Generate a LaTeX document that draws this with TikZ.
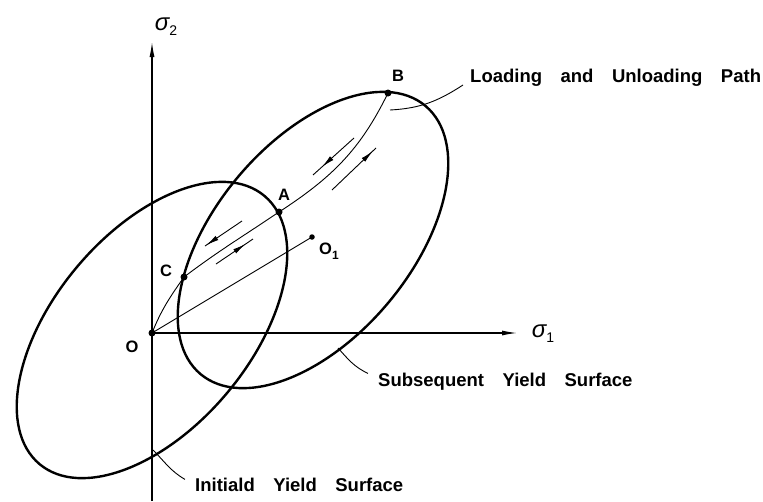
\documentclass[tikz,border=0pt]{standalone}
\usepackage{fontspec}
\setmainfont{Liberation Sans}
\newfontfamily\lab[WordSpace=3.6]{Liberation Sans}
\usetikzlibrary{arrows.meta,decorations.markings}
\begin{document}
\begin{tikzpicture}[x=1pt,y=1pt,
  surf/.style={line width=2.4pt},
  axis/.style={line width=1.1pt,-{Latex[length=15pt,width=5pt]}},
  thinline/.style={line width=0.9pt},
  dot/.style={circle,fill,inner sep=0pt,minimum size=7pt},
  smalldot/.style={circle,fill,inner sep=0pt,minimum size=5.5pt},
  ptlab/.style={font=\bfseries\fontsize{16.5}{16.5}\selectfont,inner sep=0pt},
  siglab/.style={inner sep=0pt},
  txt/.style={font=\lab\bfseries\fontsize{18.5}{18.5}\selectfont, anchor=base west, inner sep=0pt},
  halfarrow/.style={line width=0.9pt, postaction={decorate},
    decoration={markings, mark=at position #1 with {\arrow{Latex[length=13pt,width=5pt]}}}},
]
\useasboundingbox (0,0) rectangle (763,-501);

% geometry points
\coordinate (O) at (152,-333);
\coordinate (Ic) at (152,-330);
\coordinate (O1) at (312,-237);
\coordinate (Sc) at (313,-240);
\coordinate (A) at (279,-212);
\coordinate (B) at (388,-93);
\coordinate (C) at (184,-277);
\coordinate (ybot) at (152,-501);
\coordinate (ytop) at (152,-42);
\coordinate (xend) at (517,-333);

% axes
\draw[axis] (ybot) -- (ytop);
\draw[axis] (O) -- (xend);
\node[siglab] (s2) at (166,-27) {{\fontsize{24}{24}\selectfont\itshape σ}\raisebox{-5pt}{\fontsize{14}{14}\selectfont 2}};
\node[siglab] (s1) at (543,-334) {{\fontsize{24}{24}\selectfont\itshape σ}\raisebox{-5pt}{\fontsize{14}{14}\selectfont 1}};

% yield surfaces
\draw[surf, rotate around={50:(Ic)}] (Ic) ellipse [x radius=175, y radius=98];
\draw[surf, rotate around={50:(Sc)}] (Sc) ellipse [x radius=175, y radius=98];

% loading path and O-O1
\draw[thinline] (O) to[out=68,in=235] (C) to[out=37,in=214] (A) to[out=33,in=244] (B);
\draw[thinline] (O) -- (O1);

% direction marks
\coordinate (m1s) at (242,-221); \coordinate (m1e) at (205,-246);
\coordinate (m2s) at (216,-264); \coordinate (m2e) at (253,-239);
\coordinate (m3s) at (354,-138); \coordinate (m3e) at (313,-175);
\coordinate (m4s) at (332,-190); \coordinate (m4e) at (376,-148);
\draw[halfarrow=0.97] (m1s) -- (m1e);
\draw[halfarrow=0.8] (m2s) -- (m2e);
\draw[halfarrow=0.78] (m3s) -- (m3e);
\draw[halfarrow=0.93] (m4s) -- (m4e);

% dots
\node[dot] (Od) at (O) {};
\node[dot] (Ad) at (A) {};
\node[dot] (Bd) at (B) {};
\node[dot] (Cd) at (C) {};
\node[smalldot] (O1d) at (O1) {};

% point labels
\node[ptlab] (Al) at (284,-195) {A};
\node[ptlab] (Bl) at (398,-76) {B};
\node[ptlab] (Cl) at (166,-271) {C};
\node[ptlab] (Ol) at (132,-347) {O};
\node[ptlab] (O1l) at (329,-251) {O\raisebox{-5pt}{\fontsize{12}{12}\selectfont 1}};

% captions and leaders
\node[txt] (load) at (470,-82) {Loading and Unloading Path};
\node[txt] (subs) at (378,-386) {Subsequent Yield Surface};
\node[txt] (init) at (195,-491) {Initiald Yield Surface};

\coordinate (lp) at (390,-110);
\coordinate (sp) at (338,-348);
\coordinate (ip) at (153,-450);
\draw[thinline] (lp) to[out=3,in=213] ([xshift=-7pt,yshift=-3pt]load.base west);
\draw[thinline] (sp) to[out=-48,in=155] ([xshift=-10pt,yshift=-1pt]subs.north west);
\draw[thinline] (ip) to[out=-45,in=150] ([xshift=-10pt,yshift=-2pt]init.north west);
\end{tikzpicture}
\end{document}
